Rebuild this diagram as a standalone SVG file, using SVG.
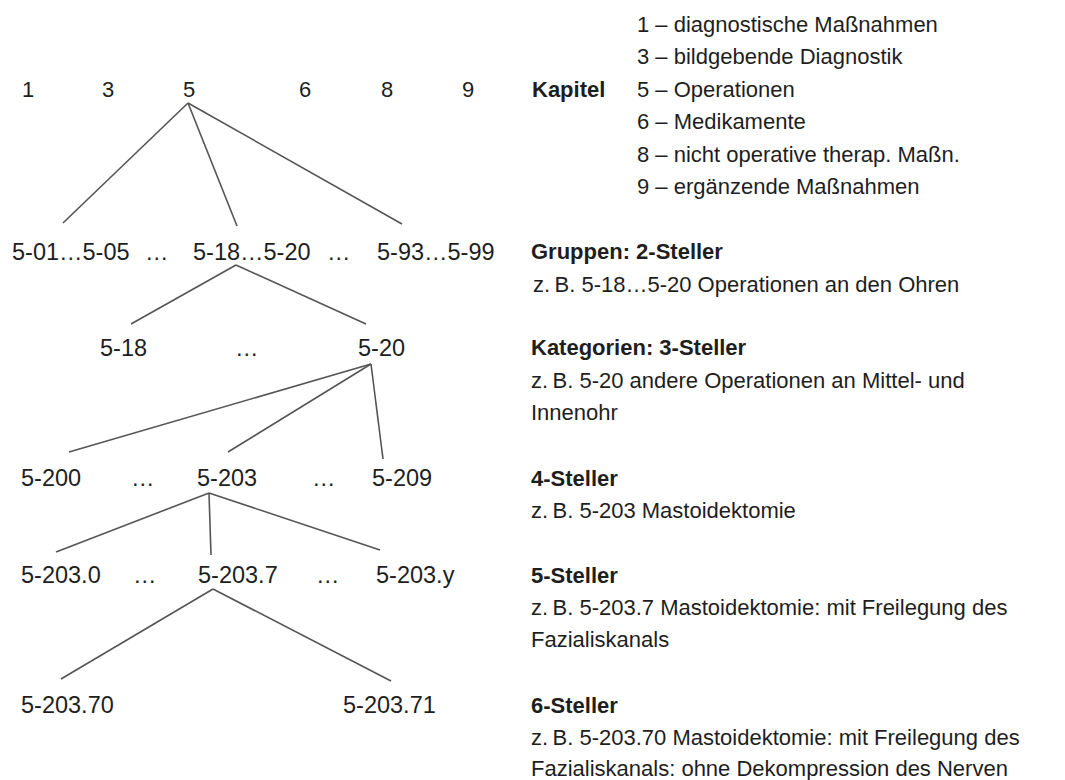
<svg xmlns="http://www.w3.org/2000/svg" width="1065" height="780" viewBox="0 0 1065 780">
<style>
text{font-family:"Liberation Sans",Arial,sans-serif;fill:#1e1e1e}
.t{font-size:23.5px}
.k{font-size:22px}
.r{font-size:22px}
.b{font-weight:bold}
.c line{stroke:#555;stroke-width:1.6;fill:none}
</style>
<rect width="1065" height="780" fill="#fff"/>
<g id="chapters">
<text class="k" x="22" y="96.5">1</text>
<text class="k" x="102" y="96.5">3</text>
<text class="k" x="183" y="96.5">5</text>
<text class="k" x="299" y="96.5">6</text>
<text class="k" x="381" y="96.5">8</text>
<text class="k" x="462" y="96.5">9</text>
</g>
<g id="groups">
<text class="t" x="12" y="260">5-01…5-05</text>
<text class="t" x="145" y="260">…</text>
<text class="t" x="193" y="260">5-18…5-20</text>
<text class="t" x="327" y="260">…</text>
<text class="t" x="377" y="260">5-93…5-99</text>
</g>
<g id="categories">
<text class="t" x="100" y="356">5-18</text>
<text class="t" x="235" y="356">…</text>
<text class="t" x="358" y="356">5-20</text>
</g>
<g id="four">
<text class="t" x="21" y="486">5-200</text>
<text class="t" x="131" y="486">…</text>
<text class="t" x="197" y="486">5-203</text>
<text class="t" x="312" y="486">…</text>
<text class="t" x="372" y="486">5-209</text>
</g>
<g id="five">
<text class="t" x="21" y="583">5-203.0</text>
<text class="t" x="133" y="583">…</text>
<text class="t" x="198" y="583">5-203.7</text>
<text class="t" x="316" y="583">…</text>
<text class="t" x="376" y="583">5-203.y</text>
</g>
<g id="six">
<text class="t" x="21" y="713">5-203.70</text>
<text class="t" x="343" y="713">5-203.71</text>
</g>
<g id="legend">
<text class="r b" x="532" y="96.5">Kapitel</text>
<text class="r" x="637" y="31.5">1 – diagnostische Maßnahmen</text>
<text class="r" x="637" y="64">3 – bildgebende Diagnostik</text>
<text class="r" x="637" y="96.5">5 – Operationen</text>
<text class="r" x="637" y="129">6 – Medikamente</text>
<text class="r" x="637" y="161.5">8 – nicht operative therap. Maßn.</text>
<text class="r" x="637" y="194">9 – ergänzende Maßnahmen</text>
<text class="r b" x="531" y="259">Gruppen: 2-Steller</text>
<text class="r" x="533" y="292">z.&#8201;B. 5-18…5-20 Operationen an den Ohren</text>
<text class="r b" x="531" y="355">Kategorien: 3-Steller</text>
<text class="r" x="531" y="388">z.&#8201;B. 5-20 andere Operationen an Mittel- und</text>
<text class="r" x="531" y="420">Innenohr</text>
<text class="r b" x="531" y="486">4-Steller</text>
<text class="r" x="531" y="518">z.&#8201;B. 5-203 Mastoidektomie</text>
<text class="r b" x="531" y="583">5-Steller</text>
<text class="r" x="531" y="615">z.&#8201;B. 5-203.7 Mastoidektomie: mit Freilegung des</text>
<text class="r" x="531" y="647">Fazialiskanals</text>
<text class="r b" x="531" y="713">6-Steller</text>
<text class="r" x="531" y="745">z.&#8201;B. 5-203.70 Mastoidektomie: mit Freilegung des</text>
<text class="r" x="531" y="776">Fazialiskanals: ohne Dekompression des Nerven</text>
</g>
<g id="connectors" class="c">
<line x1="188" y1="103" x2="63" y2="223"/>
<line x1="188" y1="103" x2="237" y2="226"/>
<line x1="188" y1="103" x2="402" y2="224"/>
<line x1="236" y1="265" x2="131" y2="324"/>
<line x1="236" y1="265" x2="366" y2="324"/>
<line x1="371" y1="364" x2="69" y2="452"/>
<line x1="371" y1="364" x2="228" y2="452"/>
<line x1="371" y1="364" x2="383" y2="459"/>
<line x1="209" y1="493" x2="56" y2="552"/>
<line x1="209" y1="493" x2="211" y2="555"/>
<line x1="209" y1="493" x2="380" y2="550"/>
<line x1="213" y1="589" x2="61" y2="679"/>
<line x1="213" y1="589" x2="391" y2="681"/>
</g>
</svg>
